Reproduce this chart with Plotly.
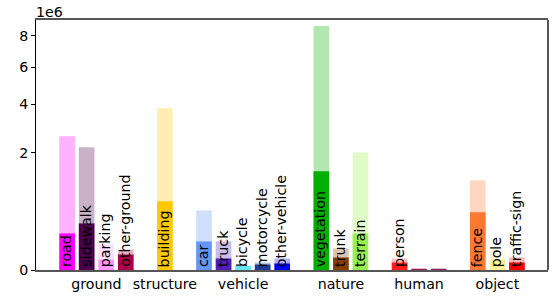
import numpy as np
import plotly.graph_objects as go

classes = ["road", "sidewalk", "parking", "other-ground", "building",
           "car", "truck", "bicycle", "motorcycle", "other-vehicle",
           "vegetation", "trunk", "terrain",
           "person", "bicyclist", "motorcyclist",
           "fence", "pole", "traffic-sign"]
class_labels = ["road", "sidewalk", "parking", "other-ground", "building",
                "car", "truck", "bicycle", "motorcycle", "other-vehicle",
                "vegetation", "trunk", "terrain",
                "person", "", "",
                "fence", "pole", "traffic-sign"]
class_group = ["ground", "ground", "ground", "ground", "structure",
               "vehicle", "vehicle", "vehicle", "vehicle", "vehicle",
               "nature", "nature", "nature",
               "human", "human", "human",
               "object", "object", "object"]
groups = ["ground", "structure", "vehicle", "nature", "human", "object"]

# point counts (total / subset)
total_counts = [2.61e6, 2.196e6, 0.095e6, 0.0615e6, 3.817e6,
                0.518e6, 0.119e6, 0.0026e6, 0.0082e6, 0.0194e6,
                8.68e6, 0.0677e6, 2.02e6,
                0.0194e6, 0.0002e6, 0.0002e6,
                1.172e6, 0.0615e6, 0.0229e6]
subset_counts = [0.195e6, 0.316e6, 0.016e6, 0.035e6, 0.687e6,
                 0.119e6, 0.0194e6, 0.0026e6, 0.0044e6, 0.0062e6,
                 1.42e6, 0.0229e6, 0.195e6,
                 0.0082e6, 0.0001e6, 0.0001e6,
                 0.484e6, 0.0161e6, 0.0082e6]
class_rgb = [(255, 0, 255), (75, 0, 75), (255, 150, 255), (175, 0, 75), (255, 200, 0),
             (100, 150, 245), (80, 30, 180), (100, 230, 245), (30, 60, 150), (0, 0, 255),
             (0, 175, 0), (135, 60, 0), (150, 240, 80),
             (255, 30, 30), (150, 30, 90), (150, 30, 90),
             (255, 120, 50), (255, 240, 150), (255, 0, 0)]

ytick_vals = [0, 2e6, 4e6, 6e6, 8e6]
ytick_text = ["0", "2", "4", "6", "8"]

# slot positions: one empty slot between groups
xpos = []
slot = 0
prev = None
for g in class_group:
    if prev is not None and g != prev:
        slot += 1
    xpos.append(slot)
    slot += 1
    prev = g
group_centers = []
for g in groups:
    xs = [x for x, cg in zip(xpos, class_group) if cg == g]
    group_centers.append((min(xs) + max(xs)) / 2)

scale = 1e6
sq_total = [np.sqrt(v / scale) for v in total_counts]
sq_sub = [np.sqrt(v / scale) for v in subset_counts]

def blend(c, a):
    return "rgb(%d,%d,%d)" % tuple(round(255 * (1 - a) + ch * a) for ch in c)

fig = go.Figure()
fig.add_trace(go.Bar(x=xpos, y=sq_total, width=0.8,
                     marker=dict(color=[blend(c, 0.3) for c in class_rgb], line=dict(width=0)),
                     showlegend=False, hoverinfo="skip"))
fig.add_trace(go.Bar(x=xpos, y=sq_sub, width=0.8,
                     marker=dict(color=["rgb(%d,%d,%d)" % c for c in class_rgb], line=dict(width=0)),
                     showlegend=False, hoverinfo="skip"))

font = "DejaVu Sans"
fs = 14.2
for x, lab in zip(xpos, class_labels):
    if lab:
        fig.add_annotation(x=x, y=0, xref="x", yref="y", text=lab, textangle=-90,
                           showarrow=False, xanchor="center", yanchor="bottom", yshift=1,
                           xshift=-1, font=dict(family=font, size=fs, color="black"))

fig.add_annotation(x=0, y=1, xref="paper", yref="paper", text="1e6", showarrow=False,
                   xanchor="left", yanchor="bottom", yshift=-2, xshift=-2,
                   font=dict(family=font, size=fs, color="black"))
# right spine
fig.add_shape(type="line", xref="paper", yref="paper", x0=1, x1=1, y0=0, y1=1,
              line=dict(color="#555555", width=2))

xmin, xmax = min(xpos) - 0.4, max(xpos) + 0.4
pad = 0.05 * (xmax - xmin)
fig.update_layout(
    width=556, height=301, barmode="overlay",
    margin=dict(l=36, r=8, t=20, b=31, autoexpand=False),
    plot_bgcolor="white", paper_bgcolor="white",
    font=dict(family=font, size=fs, color="black"),
    xaxis=dict(range=[xmin - pad, xmax + pad], tickvals=group_centers, ticktext=groups,
               automargin=False,
               showgrid=False, zeroline=False, showline=True, linecolor="#555555", linewidth=2,
               mirror=True, ticks=""),
    yaxis=dict(range=[0, 3.018], tickvals=[np.sqrt(v / scale) for v in ytick_vals],
               automargin=False,
               ticktext=ytick_text, showgrid=False, zeroline=False, showline=True,
               linecolor="black", linewidth=1, ticks="outside", ticklen=4, tickcolor="black"),
)
fig.write_html("out.html", post_script="document.body.style.margin='0';",
               config={"displayModeBar": False})
